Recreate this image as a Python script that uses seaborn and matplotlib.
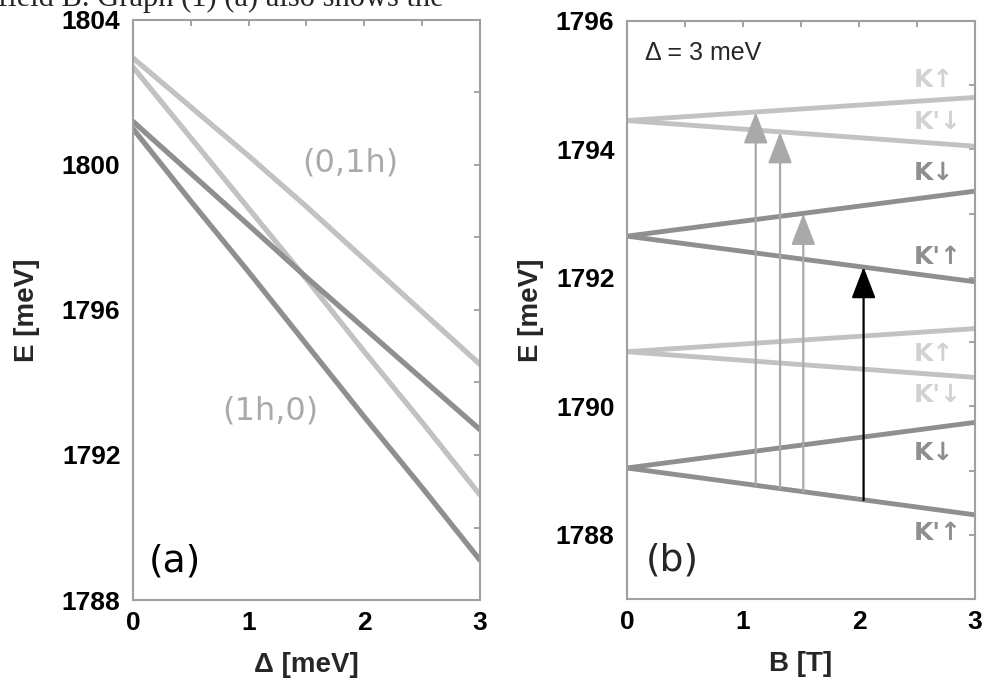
import numpy as np
import pandas as pd
import matplotlib
matplotlib.use("Agg")
import matplotlib.pyplot as plt
import seaborn as sns

# -----------------------------
# DATA
# -----------------------------

# panel (a): energies vs splitting Delta
delta = [0, 0.5, 1, 1.5, 2, 2.5, 3]
e_light_shallow = [1802.95, 1801.6, 1800.25, 1798.85, 1797.4, 1795.95, 1794.5]
e_light_steep = [1802.7, 1800.75, 1798.8, 1796.85, 1794.85, 1792.9, 1790.9]
e_dark_shallow = [1801.2, 1799.77, 1798.34, 1796.9, 1795.5, 1794.1, 1792.7]
e_dark_steep = [1801.0, 1799.0, 1797.05, 1795.05, 1793.05, 1791.1, 1789.1]

# panel (b): Zeeman split levels vs B (Delta = 3 meV)
b_field = [0, 3]
top_k_up = [1794.45, 1794.81]
top_kp_down = [1794.45, 1794.05]
top_k_down = [1792.65, 1793.35]
top_kp_up = [1792.65, 1791.94]
low_k_up = [1790.85, 1791.21]
low_kp_down = [1790.85, 1790.45]
low_k_down = [1789.04, 1789.75]
low_kp_up = [1789.04, 1788.31]

# transitions (arrows)
arrow_b = [1.11, 1.32, 1.52, 2.04]
arrow_from = [1788.77, 1788.72, 1788.67, 1788.54]
arrow_to = [1794.58, 1794.27, 1793.00, 1792.17]
arrow_colors = ["#a9a9a9", "#a9a9a9", "#a9a9a9", "black"]

# level labels on the right of panel (b)
level_labels = ["K↑", "K'↓", "K↓", "K'↑", "K↑", "K'↓", "K↓", "K'↑"]
level_label_e = [1795.08, 1794.43, 1793.64, 1792.33, 1790.82, 1790.17, 1789.27, 1788.03]

LIGHT = "#c2c2c2"
DARK = "#8f8f8f"
LABEL_LIGHT = "#d2d2d2"

sns.set_theme(style="white")
plt.rcParams["font.family"] = ["Liberation Sans", "DejaVu Sans"]

fig = plt.figure(figsize=(9.85, 6.84), dpi=100)
ax1 = fig.add_axes([0.135, 0.1228, 0.3523, 0.848])
ax2 = fig.add_axes([0.6365, 0.1243, 0.3533, 0.845])

# cropped document text on top
fig.text(-0.002, 1 - 6 / 684, "field B. Graph (1) (a) also shows the",
         family="Liberation Serif", fontsize=22, va="baseline", ha="left")

# -----------------------------
# PANEL (a)
# -----------------------------
df_a = pd.DataFrame({
    "delta": delta * 4,
    "E": e_light_shallow + e_light_steep + e_dark_shallow + e_dark_steep,
    "line": ["ls"] * 7 + ["lt"] * 7 + ["ds"] * 7 + ["dt"] * 7,
})
sns.lineplot(data=df_a, x="delta", y="E", hue="line",
             palette={"ls": LIGHT, "lt": LIGHT, "ds": DARK, "dt": DARK},
             linewidth=3.8, legend=False, ax=ax1)
ax1.set_xlim(0, 3)
ax1.set_ylim(1788, 1804)
ax1.set_yticks(np.arange(1788, 1805, 2))
ax1.set_yticklabels([str(v) if v % 4 == 0 else "" for v in range(1788, 1805, 2)])
ax1.text(1.88, 1800.05, "(0,1h)", family="DejaVu Sans", color="#aaaaaa",
         fontsize=23, ha="center", va="center")
ax1.text(1.19, 1793.2, "(1h,0)", family="DejaVu Sans", color="#aaaaaa",
         fontsize=23, ha="center", va="center")
ax1.text(0.36, 1789.05, "(a)", family="DejaVu Sans", color="black",
         fontsize=27, ha="center", va="center")
ax1.set_xlabel("Δ [meV]", fontsize=20, fontweight="bold", va="top")
ax1.set_ylabel("E [meV]", fontsize=20, fontweight="bold")

# -----------------------------
# PANEL (b)
# -----------------------------
levels = [top_k_up, top_kp_down, top_k_down, top_kp_up,
          low_k_up, low_kp_down, low_k_down, low_kp_up]
level_colors = [LIGHT, LIGHT, DARK, DARK, LIGHT, LIGHT, DARK, DARK]
df_b = pd.DataFrame({
    "B": b_field * len(levels),
    "E": [v for lv in levels for v in lv],
    "level": [i for i in range(len(levels)) for _ in b_field],
})
sns.lineplot(data=df_b, x="B", y="E", hue="level",
             palette=dict(enumerate(level_colors)),
             linewidth=3.5, legend=False, ax=ax2)

for b, e0, e1, c in zip(arrow_b, arrow_from, arrow_to, arrow_colors):
    ax2.annotate("", xy=(b, e1), xytext=(b, e0),
                 arrowprops=dict(arrowstyle="-|>,head_length=0.65,head_width=0.25",
                                 mutation_scale=30, color=c, lw=1.6,
                                 shrinkA=0, shrinkB=0))

for lab, e, c in zip(level_labels, level_label_e, level_colors):
    ax2.text(2.47, e, lab, family="DejaVu Sans",
             color=LABEL_LIGHT if c == LIGHT else DARK,
             fontsize=18, fontweight="bold", ha="left", va="center")

ax2.text(0.155, 1795.5, "Δ = 3 meV", fontsize=18, ha="left", va="center")
ax2.text(0.39, 1787.6, "(b)", family="DejaVu Sans", fontsize=27,
         ha="center", va="center")
ax2.set_xlim(0, 3)
ax2.set_ylim(1787, 1796)
ax2.set_yticks(np.arange(1787, 1797, 1))
ax2.set_yticklabels([str(v) if v % 2 == 0 else "" for v in range(1787, 1797)])
ax2.set_xlabel("B [T]", fontsize=20, fontweight="bold", va="top")
ax2.set_ylabel("E [meV]", fontsize=20, fontweight="bold")

for ax in (ax1, ax2):
    ax.set_xticks(np.arange(0, 3.01, 0.5))
    ax.set_xticklabels(["0", "", "1", "", "2", "", "3"])
    ax.tick_params(direction="in", top=True, right=True, length=4,
                   color="#999999", labelsize=19, labelcolor="black")
    ax.tick_params(axis="y", pad=9)
    ax.tick_params(axis="x", pad=8)
    for lab in ax.get_xticklabels() + ax.get_yticklabels():
        lab.set_fontweight("bold")
    for s in ax.spines.values():
        s.set_color("#a0a0a0")
        s.set_linewidth(1.5)
    ax.xaxis.set_label_coords(0.5, -0.09)

ax1.yaxis.set_label_coords(-0.305, 0.5)
ax2.yaxis.set_label_coords(-0.276, 0.5)
ax1.yaxis.label.set_va("center")
ax2.yaxis.label.set_va("center")

fig.savefig("out.png", dpi=100)
